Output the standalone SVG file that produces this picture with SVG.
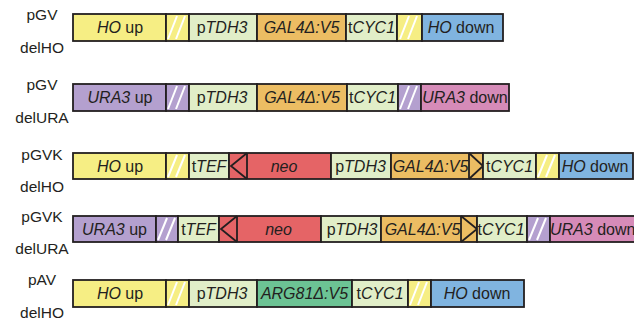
<svg xmlns="http://www.w3.org/2000/svg" width="634" height="322" viewBox="0 0 634 322">
<style>
  text { font-family: "Liberation Sans", Arial, sans-serif; font-size: 16px; fill: #231f20; }
  .lbl { font-size: 15.5px; text-anchor: middle; }
  .t { text-anchor: middle; }
  .i { font-style: italic; }
  rect { stroke: #231f20; stroke-width: 1.8; }
  .yel { fill: #f6ee84; }
  .lg { fill: #e1eec8; }
  .or { fill: #ecbd63; }
  .bl { fill: #80b4e0; }
  .pu { fill: #b4a0cf; }
  .pk { fill: #d68bb8; }
  .rd { fill: #e56466; }
  .gr { fill: #6cc394; }
  .hs { stroke: #ffffff; stroke-width: 2; fill: none; }
  .arr { stroke: #231f20; stroke-width: 1.8; fill: none; stroke-linejoin: miter; }
</style>

<!-- Row 1: pGV delHO -->
<g id="pGV-delHO">
  <text class="lbl" x="42" y="20">pGV</text>
  <text class="lbl" x="42" y="53">delHO</text>
  <rect class="yel" x="73" y="14" width="93" height="27"/>
  <text class="t" x="120" y="33"><tspan class="i">HO</tspan> up</text>
  <rect class="yel" x="166" y="14" width="23" height="27"/>
  <line class="hs" x1="168" y1="39" x2="177" y2="16"/>
  <line class="hs" x1="176" y1="39" x2="185" y2="16"/>
  <rect class="lg" x="189" y="14" width="68" height="27"/>
  <text class="t" x="222" y="33">p<tspan class="i">TDH3</tspan></text>
  <rect class="or" x="257" y="14" width="89" height="27"/>
  <text class="t i" x="301.5" y="33">GAL4Δ:V5</text>
  <rect class="lg" x="346" y="14" width="51" height="27"/>
  <text class="t" x="371.5" y="33">t<tspan class="i">CYC1</tspan></text>
  <rect class="yel" x="397" y="14" width="25" height="27"/>
  <line class="hs" x1="400" y1="39" x2="409" y2="16"/>
  <line class="hs" x1="408" y1="39" x2="417" y2="16"/>
  <rect class="bl" x="422" y="14" width="81" height="27"/>
  <text class="t" x="461" y="33"><tspan class="i">HO</tspan> down</text>
</g>

<!-- Row 2: pGV delURA -->
<g id="pGV-delURA">
  <text class="lbl" x="42" y="90">pGV</text>
  <text class="lbl" x="42" y="123">delURA</text>
  <rect class="pu" x="73" y="84" width="93" height="27"/>
  <text class="t" x="120" y="103"><tspan class="i">URA3</tspan> up</text>
  <rect class="pu" x="166" y="84" width="23" height="27"/>
  <line class="hs" x1="168" y1="109" x2="177" y2="86"/>
  <line class="hs" x1="176" y1="109" x2="185" y2="86"/>
  <rect class="lg" x="189" y="84" width="68" height="27"/>
  <text class="t" x="222" y="103">p<tspan class="i">TDH3</tspan></text>
  <rect class="or" x="257" y="84" width="90" height="27"/>
  <text class="t i" x="302" y="103">GAL4Δ:V5</text>
  <rect class="lg" x="347" y="84" width="51" height="27"/>
  <text class="t" x="372.5" y="103">t<tspan class="i">CYC1</tspan></text>
  <rect class="pu" x="398" y="84" width="23" height="27"/>
  <line class="hs" x1="400" y1="109" x2="409" y2="86"/>
  <line class="hs" x1="408" y1="109" x2="417" y2="86"/>
  <rect class="pk" x="421" y="84" width="88" height="27"/>
  <text class="t" x="465" y="103"><tspan class="i">URA3</tspan> down</text>
</g>

<!-- Row 3: pGVK delHO -->
<g id="pGVK-delHO">
  <text class="lbl" x="42" y="160">pGVK</text>
  <text class="lbl" x="42" y="192">delHO</text>
  <rect class="yel" x="73" y="153" width="93" height="26"/>
  <text class="t" x="120" y="171.5"><tspan class="i">HO</tspan> up</text>
  <rect class="yel" x="166" y="153" width="23" height="26"/>
  <line class="hs" x1="168" y1="177" x2="177" y2="155"/>
  <line class="hs" x1="176" y1="177" x2="185" y2="155"/>
  <rect class="lg" x="189" y="153" width="40" height="26"/>
  <text class="t" x="209" y="171.5">t<tspan class="i">TEF</tspan></text>
  <rect class="rd" x="229" y="153" width="102" height="26"/>
  <polyline class="arr" points="247,153 231,166 247,179"/>
  <line class="arr" x1="247" y1="153" x2="247" y2="179"/>
  <text class="t i" x="284" y="171.5">neo</text>
  <rect class="lg" x="331" y="153" width="60" height="26"/>
  <text class="t" x="360.5" y="171.5">p<tspan class="i">TDH3</tspan></text>
  <rect class="or" x="391" y="153" width="92" height="26"/>
  <polyline class="arr" points="469,153 483,166 469,179"/>
  <line class="arr" x1="469" y1="153" x2="469" y2="179"/>
  <text class="t i" x="430.5" y="171.5">GAL4Δ:V5</text>
  <rect class="lg" x="483" y="153" width="53" height="26"/>
  <text class="t" x="509.5" y="171.5">t<tspan class="i">CYC1</tspan></text>
  <rect class="yel" x="536" y="153" width="23" height="26"/>
  <line class="hs" x1="538" y1="177" x2="547" y2="155"/>
  <line class="hs" x1="546" y1="177" x2="555" y2="155"/>
  <rect class="bl" x="559" y="153" width="74" height="26"/>
  <text class="t" x="595" y="171.5"><tspan class="i">HO</tspan> down</text>
</g>

<!-- Row 4: pGVK delURA -->
<g id="pGVK-delURA">
  <text class="lbl" x="42" y="222">pGVK</text>
  <text class="lbl" x="42" y="254">delURA</text>
  <rect class="pu" x="73" y="216" width="83" height="26"/>
  <text class="t" x="114.5" y="234.5"><tspan class="i">URA3</tspan> up</text>
  <rect class="pu" x="156" y="216" width="22" height="26"/>
  <line class="hs" x1="158" y1="240" x2="167" y2="218"/>
  <line class="hs" x1="166" y1="240" x2="175" y2="218"/>
  <rect class="lg" x="178" y="216" width="41" height="26"/>
  <text class="t" x="198.5" y="234.5">t<tspan class="i">TEF</tspan></text>
  <rect class="rd" x="219" y="216" width="102" height="26"/>
  <polyline class="arr" points="237,216 221,229 237,242"/>
  <line class="arr" x1="237" y1="216" x2="237" y2="242"/>
  <text class="t i" x="278.5" y="234.5">neo</text>
  <rect class="lg" x="321" y="216" width="60" height="26"/>
  <text class="t" x="352" y="234.5">p<tspan class="i">TDH3</tspan></text>
  <rect class="or" x="381" y="216" width="96" height="26"/>
  <polyline class="arr" points="461,216 477,229 461,242"/>
  <line class="arr" x1="461" y1="216" x2="461" y2="242"/>
  <text class="t i" x="422.5" y="234.5">GAL4Δ:V5</text>
  <rect class="lg" x="477" y="216" width="50" height="26"/>
  <text class="t" x="501" y="234.5">t<tspan class="i">CYC1</tspan></text>
  <rect class="pu" x="527" y="216" width="23" height="26"/>
  <line class="hs" x1="529" y1="240" x2="538" y2="218"/>
  <line class="hs" x1="537" y1="240" x2="546" y2="218"/>
  <rect class="pk" x="550" y="216" width="90" height="26"/>
  <text x="550" y="234.5"><tspan class="i">URA3</tspan> down</text>
</g>

<!-- Row 5: pAV delHO -->
<g id="pAV-delHO">
  <text class="lbl" x="42" y="285">pAV</text>
  <text class="lbl" x="42" y="318">delHO</text>
  <rect class="yel" x="73" y="280" width="93" height="27"/>
  <text class="t" x="120" y="299"><tspan class="i">HO</tspan> up</text>
  <rect class="yel" x="166" y="280" width="23" height="27"/>
  <line class="hs" x1="168" y1="305" x2="177" y2="282"/>
  <line class="hs" x1="176" y1="305" x2="185" y2="282"/>
  <rect class="lg" x="189" y="280" width="68" height="27"/>
  <text class="t" x="222" y="299">p<tspan class="i">TDH3</tspan></text>
  <rect class="gr" x="257" y="280" width="95" height="27"/>
  <text class="t i" x="304.5" y="299">ARG81Δ:V5</text>
  <rect class="lg" x="352" y="280" width="56" height="27"/>
  <text class="t" x="380" y="299">t<tspan class="i">CYC1</tspan></text>
  <rect class="yel" x="408" y="280" width="23" height="27"/>
  <line class="hs" x1="410" y1="305" x2="419" y2="282"/>
  <line class="hs" x1="418" y1="305" x2="427" y2="282"/>
  <rect class="bl" x="431" y="280" width="93" height="27"/>
  <text class="t" x="477" y="299"><tspan class="i">HO</tspan> down</text>
</g>

<g id="connectors"></g>
</svg>
